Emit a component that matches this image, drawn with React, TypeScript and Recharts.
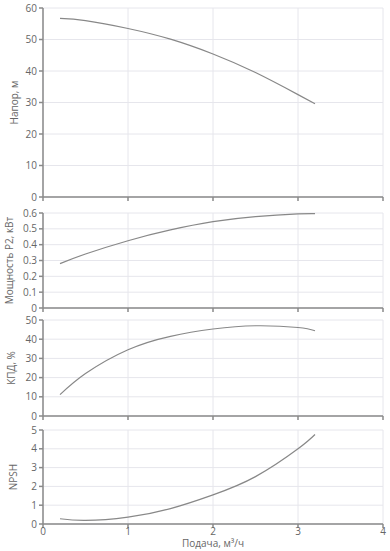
import { CartesianGrid, Label, Line, LineChart, XAxis, YAxis } from 'recharts'

// Pump curves, flow in m³/h
const flow = [0.2, 0.5, 1, 1.5, 2, 2.5, 3, 3.2]
const head = [56.7, 56.0, 53.5, 50.1, 45.4, 39.5, 32.5, 29.6]
const power = [0.28, 0.341, 0.425, 0.493, 0.545, 0.577, 0.594, 0.596]
const efficiency = [11.1, 22.1, 34.5, 41.5, 45.3, 47.0, 46.1, 44.4]
const npsh = [0.28, 0.19, 0.37, 0.82, 1.55, 2.52, 4.0, 4.76]

const xTicks = [0, 1, 2, 3, 4]
const headTicks = [0, 10, 20, 30, 40, 50, 60]
const powerTicks = [0, 0.1, 0.2, 0.3, 0.4, 0.5, 0.6]
const effTicks = [0, 10, 20, 30, 40, 50]
const npshTicks = [0, 1, 2, 3, 4, 5]

const data = flow.map((q, i) => ({ q, head: head[i], power: power[i], eff: efficiency[i], npsh: npsh[i] }))

const FONT = '"Open Sans", sans-serif'
const TEXT = '#666666'
const AXIS = '#8a8a8a'
const GRID = '#e6e6ec'
const FS = 10

const yTitle = (text: string, x: number) => (props: any) => {
  const vb = props.viewBox
  const cy = vb.y + vb.height / 2
  return (
    <text x={x} y={cy} transform={`rotate(-90, ${x}, ${cy})`} textAnchor='middle' dominantBaseline='central' fill={TEXT} fontSize={FS} fontFamily={FONT}>
      {text}
    </text>
  )
}

// upper panels keep their x tick marks and grid, but no tick labels
const noLabel = () => <g />

type PanelProps = {
  y: number
  height: number
  top: number
  xHeight: number
  dataKey: string
  domain: [number, number]
  ticks: number[]
  title: string
  titleX: number
  last?: boolean
}

function Panel({ y, height, top, xHeight, dataKey, domain, ticks, title, titleX, last }: PanelProps) {
  return (
    <div style={{ position: 'absolute', left: 0, top: y }}>
      <LineChart width={390} height={height} data={data} margin={{ top, right: 7, bottom: 0, left: 0 }} style={{ fontFamily: FONT }}>
        <CartesianGrid stroke={GRID} />
        <XAxis
          dataKey='q'
          type='number'
          domain={[0, 4]}
          ticks={xTicks}
          height={xHeight}
          stroke={AXIS}
          strokeWidth={1.5}
          tickSize={4}
          tickMargin={0}
          tick={last ? { fill: TEXT, fontSize: FS } : noLabel}
          tickLine={{ stroke: AXIS }}
          interval={0}
        >
          {last && <Label value='Подача, м³/ч' position='insideBottom' offset={4} fill={TEXT} fontSize={FS} />}
        </XAxis>
        <YAxis
          type='number'
          domain={domain}
          ticks={ticks}
          width={43}
          stroke={AXIS}
          strokeWidth={1.5}
          tickSize={4}
          tick={{ fill: TEXT, fontSize: FS }}
          tickLine={{ stroke: AXIS }}
          interval={0}
        >
          <Label content={yTitle(title, titleX)} />
        </YAxis>
        <Line dataKey={dataKey} type='natural' stroke='#888888' strokeWidth={1.2} dot={false} isAnimationActive={false} />
      </LineChart>
    </div>
  )
}

export default function App() {
  return (
    <div style={{ position: 'absolute', left: 0, top: 0, width: 390, height: 551, background: '#fff', overflow: 'hidden' }}>
      <Panel y={0} height={210} top={8} xHeight={13} dataKey='head' domain={[0, 60]} ticks={headTicks} title='Напор, м' titleX={14} />
      <Panel y={200} height={118} top={13} xHeight={10} dataKey='power' domain={[0, 0.6]} ticks={powerTicks} title='Мощность P2, кВт' titleX={9} />
      <Panel y={310} height={116} top={10} xHeight={10} dataKey='eff' domain={[0, 50]} ticks={effTicks} title='КПД, %' titleX={11} />
      <Panel y={420} height={131} top={10} xHeight={27} dataKey='npsh' domain={[0, 5]} ticks={npshTicks} title='NPSH' titleX={13} last />
    </div>
  )
}
